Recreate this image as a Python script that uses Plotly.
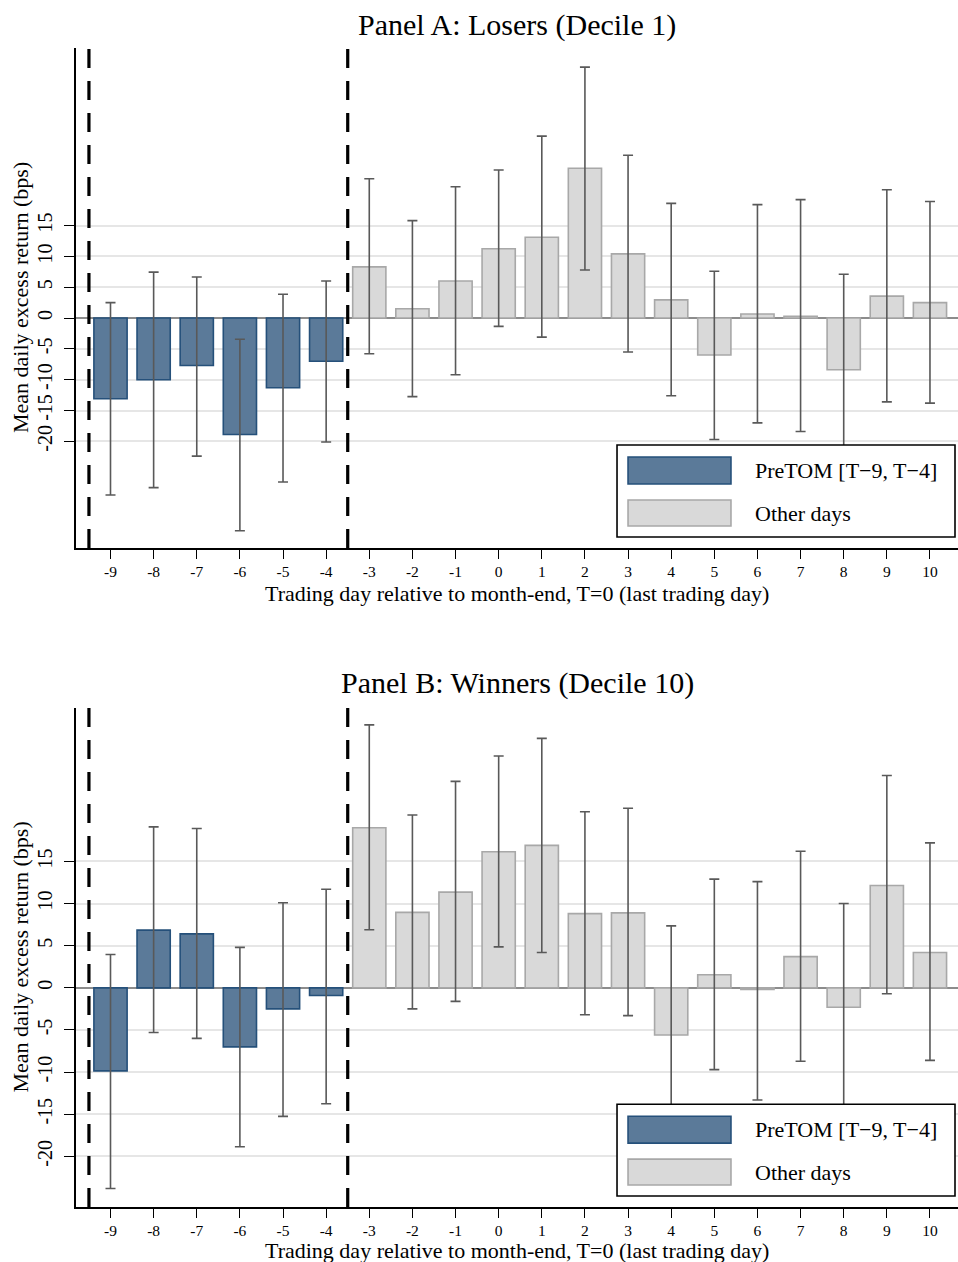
import plotly.graph_objects as go
from plotly.subplots import make_subplots

# ---------------- data ----------------
days_pre = [-9, -8, -7, -6, -5, -4]
days_other = [-3, -2, -1, 0, 1, 2, 3, 4, 5, 6, 7, 8, 9, 10]
x_ticks = list(range(-9, 11))
y_ticks = [-20, -15, -10, -5, 0, 5, 10, 15]

# Panel A: Losers (Decile 1)
a_pre_mean = [-13.1, -10.0, -7.7, -18.9, -11.3, -7.0]
a_pre_hi = [2.5, 7.45, 6.65, -3.45, 3.85, 6.0]
a_pre_lo = [-28.7, -27.5, -22.4, -34.5, -26.6, -20.1]
a_oth_mean = [8.3, 1.5, 6.0, 11.25, 13.1, 24.3, 10.4, 2.95, -6.0, 0.65, 0.3, -8.4, 3.55, 2.5]
a_oth_hi = [22.6, 15.8, 21.3, 24.0, 29.5, 40.7, 26.4, 18.6, 7.6, 18.4, 19.2, 7.1, 20.8, 18.9]
a_oth_lo = [-5.8, -12.75, -9.2, -1.35, -3.1, 7.8, -5.5, -12.6, -19.7, -17.0, -18.4, -23.9, -13.6, -13.8]

# Panel B: Winners (Decile 10)
b_pre_mean = [-9.85, 6.85, 6.4, -7.0, -2.5, -0.9]
b_pre_hi = [3.95, 19.1, 18.9, 4.8, 10.1, 11.7]
b_pre_lo = [-23.8, -5.3, -6.0, -18.85, -15.25, -13.75]
b_oth_mean = [19.0, 8.95, 11.35, 16.15, 16.9, 8.8, 8.9, -5.6, 1.55, -0.2, 3.7, -2.3, 12.15, 4.2]
b_oth_hi = [31.2, 20.5, 24.5, 27.5, 29.6, 20.9, 21.3, 7.35, 12.9, 12.6, 16.2, 10.0, 25.2, 17.2]
b_oth_lo = [6.9, -2.5, -1.6, 4.86, 4.2, -3.2, -3.3, -18.5, -9.7, -13.3, -8.7, -14.6, -0.7, -8.6]

panel_titles = ["Panel A: Losers (Decile 1)", "Panel B: Winners (Decile 10)"]
legend_labels = ["PreTOM [T\u22129, T\u22124]", "Other days"]
x_title = "Trading day relative to month-end, T=0 (last trading day)"
y_title = "Mean daily excess return (bps)"
split_lines = [-9.5, -3.5]

# ---------------- style ----------------
FONT = "Liberation Serif"
PRE_FILL = "#5b7a99"
PRE_EDGE = "#25507a"
OTH_FILL = "#d9d9d9"
OTH_EDGE = "#a8a8a8"
ERR_COLOR = "#595959"
W, H = 958, 1262

fig = make_subplots(rows=2, cols=1)


def err(mean, hi, lo):
    return dict(type="data", symmetric=False,
                array=[h - m for h, m in zip(hi, mean)],
                arrayminus=[m - l for m, l in zip(mean, lo)],
                color=ERR_COLOR, thickness=1.6, width=5)


panels = [
    (a_pre_mean, a_pre_hi, a_pre_lo, a_oth_mean, a_oth_hi, a_oth_lo),
    (b_pre_mean, b_pre_hi, b_pre_lo, b_oth_mean, b_oth_hi, b_oth_lo),
]
for i, (pm, ph, pl, om, oh, ol) in enumerate(panels, start=1):
    fig.add_trace(go.Bar(x=days_pre, y=pm, width=0.77, name=legend_labels[0],
                         marker=dict(color=PRE_FILL, line=dict(color=PRE_EDGE, width=1.6)),
                         error_y=err(pm, ph, pl), showlegend=False), row=i, col=1)
    fig.add_trace(go.Bar(x=days_other, y=om, width=0.77, name=legend_labels[1],
                         marker=dict(color=OTH_FILL, line=dict(color=OTH_EDGE, width=1.6)),
                         error_y=err(om, oh, ol), showlegend=False), row=i, col=1)

# plot-area pixel positions
x_dom = [76 / W, 1.0]
y_doms = [[1 - 548 / H, 1 - 48 / H], [1 - 1207 / H, 1 - 708 / H]]
y_ranges = [[-37.3, 43.8], [-26.0, 33.2]]

common_x = dict(range=[-9.8, 10.65], tickmode="array", tickvals=x_ticks,
                ticktext=[str(v) for v in x_ticks], showgrid=False, zeroline=False,
                showline=True, linecolor="black", linewidth=1.6,
                ticks="outside", ticklen=9, tickwidth=1.4, tickcolor="black",
                tickfont=dict(family=FONT, size=15.5, color="black"), domain=x_dom)
common_y = dict(tickmode="array", tickvals=y_ticks, ticktext=[str(v) for v in y_ticks],
                showgrid=True, gridcolor="#e6e6e6", gridwidth=1.8,
                zeroline=True, zerolinecolor="#8c8c8c", zerolinewidth=1.5,
                showline=True, linecolor="black", linewidth=1.6,
                ticks="outside", ticklen=10, tickwidth=1.4, tickcolor="black",
                ticklabelstandoff=4,
                tickangle=-90, tickfont=dict(family=FONT, size=20, color="black"))

fig.update_layout(
    xaxis=dict(**common_x, anchor="y"),
    xaxis2=dict(**common_x, anchor="y2"),
    yaxis=dict(**common_y, domain=y_doms[0], range=y_ranges[0], anchor="x"),
    yaxis2=dict(**common_y, domain=y_doms[1], range=y_ranges[1], anchor="x2"),
    barmode="overlay",
    width=W, height=H,
    margin=dict(l=0, r=0, t=0, b=0),
    paper_bgcolor="white", plot_bgcolor="white",
    font=dict(family=FONT, color="black"),
    showlegend=False,
)

shapes = []
annotations = []
title_y = [1 - 25 / H, 1 - 683 / H]
xtitle_y = [1 - 593 / H, 1 - 1250 / H]
for i in range(2):
    xr = "x" if i == 0 else "x2"
    yr = "y" if i == 0 else "y2"
    # dashed separators
    for xv in split_lines:
        shapes.append(dict(type="line", xref=xr, yref=f"{yr} domain", x0=xv, x1=xv,
                           y0=0, y1=1, line=dict(color="black", width=3.2, dash="19px,13px"),
                           layer="above"))
    # legend box
    shapes.append(dict(type="rect", xref=f"{xr} domain", yref=f"{yr} domain",
                       x0=0.6134, x1=0.9966, y0=0.022, y1=0.206,
                       fillcolor="white", line=dict(color="black", width=1.6), layer="above"))
    shapes.append(dict(type="rect", xref=f"{xr} domain", yref=f"{yr} domain",
                       x0=0.6259, x1=0.7426, y0=0.128, y1=0.182,
                       fillcolor=PRE_FILL, line=dict(color=PRE_EDGE, width=1.6), layer="above"))
    shapes.append(dict(type="rect", xref=f"{xr} domain", yref=f"{yr} domain",
                       x0=0.6259, x1=0.7426, y0=0.044, y1=0.096,
                       fillcolor=OTH_FILL, line=dict(color=OTH_EDGE, width=1.6), layer="above"))
    for lab, yy in zip(legend_labels, [0.155, 0.07]):
        annotations.append(dict(text=lab, xref=f"{xr} domain", yref=f"{yr} domain",
                                x=0.7676, y=yy, xanchor="left", yanchor="middle",
                                showarrow=False, font=dict(family=FONT, size=22, color="black")))
    # panel title
    annotations.append(dict(text=panel_titles[i], xref=f"{xr} domain", yref="paper",
                            x=0.5, y=title_y[i], xanchor="center", yanchor="middle",
                            showarrow=False, font=dict(family=FONT, size=30, color="black")))
    # x title
    annotations.append(dict(text=x_title, xref=f"{xr} domain", yref="paper",
                            x=0.5, y=xtitle_y[i], xanchor="center", yanchor="middle",
                            showarrow=False, font=dict(family=FONT, size=22, color="black")))
    # y title
    annotations.append(dict(text=y_title, xref="paper", yref=f"{yr} domain",
                            x=20 / W, y=0.5, xanchor="center", yanchor="middle",
                            textangle=-90, showarrow=False,
                            font=dict(family=FONT, size=22, color="black")))

fig.update_layout(shapes=shapes, annotations=annotations)
fig.write_html("out.html", config={"displayModeBar": False},
               post_script="document.body.style.margin='0';document.body.style.padding='0';")
